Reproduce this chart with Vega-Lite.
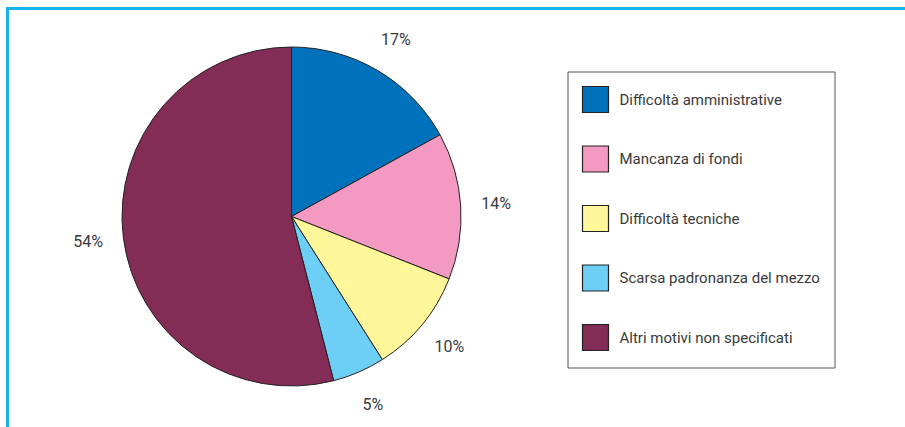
{
  "$schema": "https://vega.github.io/schema/vega-lite/v6.json",
  "width": 568,
  "height": 416,
  "padding": {"left": 5.5, "top": 6.5, "right": 0, "bottom": 0},
  "background": "white",
  "config": {
    "view": {"stroke": null},
    "font": "Roboto"
  },
  "datasets": {
    "slices": [
      {"category": "Difficoltà amministrative", "value": 17, "label": "17%", "order": 1},
      {"category": "Mancanza di fondi", "value": 14, "label": "14%", "order": 2},
      {"category": "Difficoltà tecniche", "value": 10, "label": "10%", "order": 3},
      {"category": "Scarsa padronanza del mezzo", "value": 5, "label": "5%", "order": 4},
      {"category": "Altri motivi non specificati", "value": 54, "label": "54%", "order": 5}
    ],
    "frame": [{"name": "frame"}]
  },
  "layer": [
    {
      "data": {"name": "frame"},
      "mark": {"type": "rect", "fill": null, "fillOpacity": 0, "stroke": "#1ab2ea", "strokeWidth": 3, "x": 0, "x2": {"expr": "width + 340"}, "y": 0, "y2": {"expr": "height + 10"}, "strokeDash": [908, 1334, 426, 1]},
      "encoding": {}
    },
    {
      "data": {"name": "slices"},
      "mark": {"type": "arc", "outerRadius": 169.5, "stroke": "#222222", "strokeWidth": 1},
      "encoding": {
        "theta": {"field": "value", "type": "quantitative", "stack": true},
        "order": {"field": "order", "type": "quantitative"},
        "color": {
          "field": "category",
          "type": "nominal",
          "sort": null,
          "scale": {
            "domain": ["Difficoltà amministrative", "Mancanza di fondi", "Difficoltà tecniche", "Scarsa padronanza del mezzo", "Altri motivi non specificati"],
            "range": ["#0072bb", "#f49ac2", "#fff799", "#6dcff6", "#822c56"]
          },
          "legend": {
            "title": null,
            "orient": "none",
            "legendX": 560,
            "legendY": 63,
            "padding": 14,
            "strokeColor": "#555555",
            "fillColor": "white",
            "symbolType": "square",
            "symbolSize": 676,
            "symbolStrokeColor": "#222222",
            "symbolStrokeWidth": 1.2,
            "symbolOpacity": 1,
            "rowPadding": 27.5,
            "labelOffset": 10,
            "labelFont": "Roboto",
            "labelFontSize": 15,
            "labelColor": "#3a3a3a",
            "labelLimit": 400
          }
        }
      }
    },
    {
      "data": {"name": "slices"},
      "mark": {"type": "text", "radius": 205, "font": "Roboto", "fontSize": 16, "fill": "#3a3a3a"},
      "encoding": {
        "theta": {"field": "value", "type": "quantitative", "stack": true},
        "order": {"field": "order", "type": "quantitative"},
        "detail": {"field": "category", "type": "nominal"},
        "text": {"field": "label", "type": "nominal"}
      }
    }
  ]
}
